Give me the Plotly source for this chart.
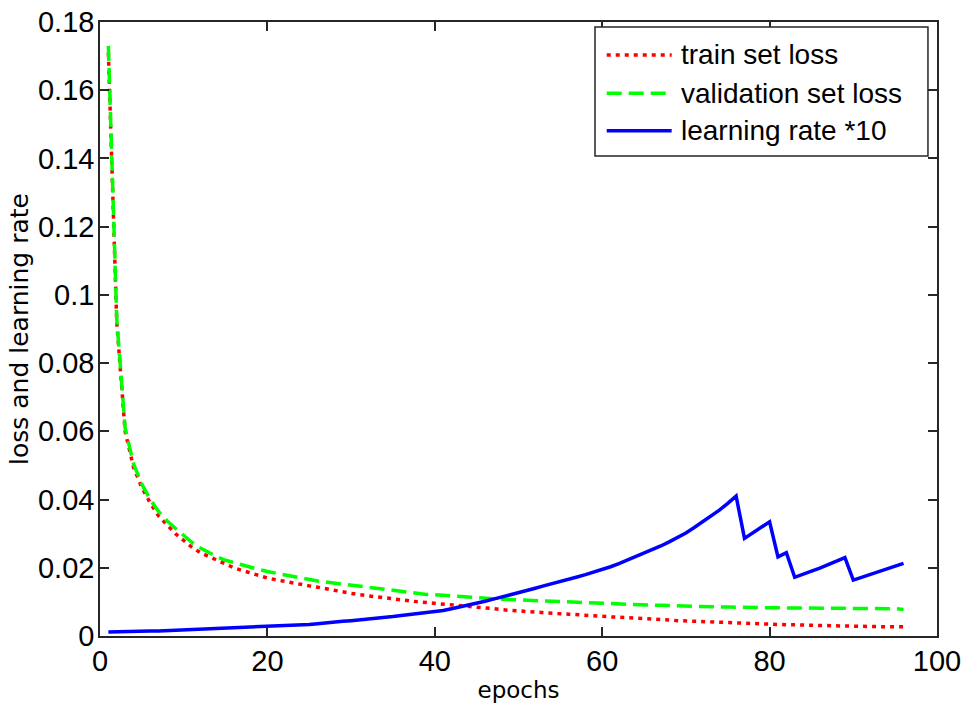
import plotly.graph_objects as go

epochs = list(range(1, 97))

train_loss = [
    0.171, 0.092, 0.060, 0.0495, 0.0435, 0.0390, 0.0352, 0.0325, 0.0300, 0.0280,
    0.0260, 0.0244, 0.0233, 0.0220, 0.0209, 0.0200, 0.0192, 0.0184, 0.0177, 0.0170,
    0.0165, 0.0160, 0.0155, 0.0151, 0.0147, 0.0143, 0.0138, 0.0133, 0.0129, 0.0125,
    0.0121, 0.0118, 0.0114, 0.0111, 0.0107, 0.0104, 0.0102, 0.0100, 0.0098, 0.0096,
    0.0094, 0.0091, 0.0089, 0.0086, 0.0084, 0.0082, 0.0080, 0.0077, 0.0075, 0.0074,
    0.0072, 0.0070, 0.0068, 0.0067, 0.0065, 0.0064, 0.0062, 0.0061, 0.0059, 0.0058,
    0.0056, 0.0055, 0.0054, 0.0053, 0.0051, 0.0050, 0.0048, 0.0047, 0.0045, 0.0044,
    0.0043, 0.0041, 0.0040, 0.0039, 0.0038, 0.0037, 0.0036, 0.0036, 0.0035, 0.0034,
    0.0034, 0.0033, 0.0033, 0.0032, 0.0031, 0.0031, 0.0030, 0.0030, 0.0029, 0.0029,
    0.0028, 0.0028, 0.0027, 0.0027, 0.0027, 0.0027,
]

val_loss = [
    0.173, 0.093, 0.061, 0.0505, 0.0445, 0.0400, 0.0365, 0.0338, 0.0316, 0.0296,
    0.0274, 0.0258, 0.0244, 0.0232, 0.0222, 0.0215, 0.0207, 0.0201, 0.0195, 0.0189,
    0.0184, 0.0179, 0.0174, 0.0169, 0.0165, 0.0161, 0.0158, 0.0155, 0.0152, 0.0150,
    0.0146, 0.0143, 0.0139, 0.0136, 0.0133, 0.0130, 0.0127, 0.0125, 0.0122, 0.0121,
    0.0119, 0.0117, 0.0115, 0.0114, 0.0112, 0.0111, 0.0109, 0.0108, 0.0107, 0.0105,
    0.0104, 0.0103, 0.0101, 0.0100, 0.0099, 0.0098, 0.0097, 0.0096, 0.0095, 0.0095,
    0.0094, 0.0093, 0.0093, 0.0092, 0.0091, 0.0090, 0.0090, 0.0089, 0.0088, 0.0088,
    0.0087, 0.0086, 0.0086, 0.0085, 0.0085, 0.0084, 0.0083, 0.0083, 0.0083, 0.0083,
    0.0082, 0.0082, 0.0082, 0.0082, 0.0082, 0.0082, 0.0082, 0.0082, 0.0082, 0.0082,
    0.0082, 0.0082, 0.0081, 0.0081, 0.0080, 0.0078,
]

lr_x10 = [
    0.0012, 0.0013, 0.0013, 0.0014, 0.0014, 0.0015, 0.0015, 0.0016, 0.0017, 0.0017,
    0.0018, 0.0019, 0.0020, 0.0021, 0.0022, 0.0023, 0.0024, 0.0025, 0.0026, 0.0027,
    0.0028, 0.0030, 0.0031, 0.0033, 0.0034, 0.0036, 0.0039, 0.0041, 0.0043, 0.0045,
    0.0047, 0.0049, 0.0052, 0.0055, 0.0057, 0.0060, 0.0063, 0.0066, 0.0068, 0.0071,
    0.0075, 0.0080, 0.0085, 0.0090, 0.0096, 0.0102, 0.0108, 0.0114, 0.0120, 0.0127,
    0.0133, 0.0140, 0.0147, 0.0153, 0.0159, 0.0166, 0.0173, 0.0180, 0.0187, 0.0194,
    0.0203, 0.0212, 0.0222, 0.0232, 0.0242, 0.0253, 0.0264, 0.0276, 0.0289, 0.0302,
    0.0318, 0.0334, 0.0351, 0.0369, 0.0389, 0.0410, 0.0286, 0.0302, 0.0318, 0.0335,
    0.0232, 0.0244, 0.0172, 0.0180, 0.0190, 0.0199, 0.0209, 0.0219, 0.0230, 0.0164,
    0.0172, 0.0180, 0.0190, 0.0197, 0.0205, 0.0213,
]

series_names = ["train set loss", "validation set loss", "learning rate *10"]
series_colors = ["#FF0000", "#00FF00", "#0000FF"]
series_dashes = ["4px,5px", "15px,7px", "solid"]

x_ticks = [0, 20, 40, 60, 80, 100]
y_ticks = [0, 0.02, 0.04, 0.06, 0.08, 0.1, 0.12, 0.14, 0.16, 0.18]
y_tick_labels = ["0", "0.02", "0.04", "0.06", "0.08", "0.1", "0.12", "0.14", "0.16", "0.18"]

FONT = "Liberation Sans, Arial, sans-serif"
TITLE_FONT = "DejaVu Sans, sans-serif"
LW = 3.5

fig = go.Figure()
for ys, name, color, dash in zip([train_loss, val_loss, lr_x10], series_names, series_colors, series_dashes):
    fig.add_trace(go.Scatter(
        x=epochs, y=ys, mode="lines", name=name, showlegend=False,
        line=dict(color=color, width=LW, dash=dash),
    ))

axis_common = dict(
    showline=True, linecolor="#262626", linewidth=1.5, mirror="ticks",
    ticks="inside", ticklen=9, tickwidth=1.5, tickcolor="#262626",
    showgrid=False, zeroline=False, automargin=False,
    ticklabeloverflow="allow",
    tickfont=dict(family=FONT, size=29, color="#000000"),
)

# Legend drawn as a boxed key in the upper right (paper coordinates)
leg_box = dict(x0=0.5914, x1=0.9892, y0=0.7818, y1=0.9919)
leg_rows = [0.9463, 0.8839, 0.8230]
leg_line_x = (0.6054, 0.6830)
leg_text_x = 0.6921

shapes = [dict(
    type="rect", xref="paper", yref="paper", layer="above",
    fillcolor="white", line=dict(color="#262626", width=1.5), **leg_box,
)]
annotations = []
for yrow, name, color, dash in zip(leg_rows, series_names, series_colors, series_dashes):
    shapes.append(dict(
        type="line", xref="paper", yref="paper", layer="above",
        x0=leg_line_x[0], x1=leg_line_x[1], y0=yrow, y1=yrow,
        line=dict(color=color, width=LW, dash=dash),
    ))
    annotations.append(dict(
        xref="paper", yref="paper", x=leg_text_x, y=yrow,
        xanchor="left", yanchor="middle", showarrow=False,
        text=name, font=dict(family=FONT, size=28, color="#000000"),
    ))

fig.update_layout(
    width=965, height=713,
    margin=dict(l=100, r=28, t=22, b=77),
    paper_bgcolor="white", plot_bgcolor="white",
    showlegend=False,
    shapes=shapes, annotations=annotations,
    xaxis=dict(
        range=[0, 100], tickvals=x_ticks,
        title=dict(text="epochs", font=dict(family=TITLE_FONT, size=23, color="#000000"), standoff=6),
        ticklabelstandoff=-2,
        **axis_common,
    ),
    yaxis=dict(
        range=[0, 0.18], tickvals=y_ticks, ticktext=y_tick_labels,
        title=dict(text="loss and learning rate", font=dict(family=TITLE_FONT, size=25, color="#000000"), standoff=2),
        ticklabelstandoff=-2,
        **axis_common,
    ),
)

# remove the page's default body margin so the figure fills the window exactly
fig.write_html(
    "out.html",
    config={"displayModeBar": False},
    post_script="document.body.style.margin='0';",
)
